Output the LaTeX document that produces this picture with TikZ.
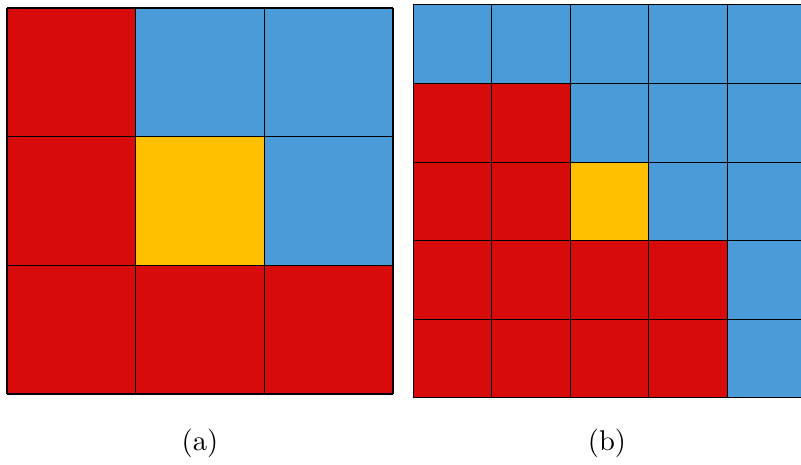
\documentclass[tikz,border=0pt]{standalone}
\definecolor{cellred}{HTML}{D80B0B}
\definecolor{cellblue}{HTML}{4A9BD8}
\definecolor{cellyellow}{HTML}{FFC000}
\tikzset{
  cell/.style={draw=black, line width=0.5pt},
  smallcell/.style={draw=black, line width=0.35pt},
}
\begin{document}
\begin{tikzpicture}[x=0.35pt, y=-0.35pt]
\useasboundingbox (0,0) rectangle (801,465);
\clip (0,0) rectangle (801,465);
% (a) 3x3 grid, rows top to bottom
\foreach \c [count=\i from 0] in {cellred,cellblue,cellblue,
                                   cellred,cellyellow,cellblue,
                                   cellred,cellred,cellred}{
  \pgfmathtruncatemacro{\col}{mod(\i,3)}
  \pgfmathtruncatemacro{\row}{div(\i,3)}
  \fill[\c] (7+128.7*\col, 8+128.7*\row) rectangle ++(128.7,128.7);
}
\foreach \k in {0,...,3}{
  \draw[cell] (7+128.7*\k,8) -- ++(0,386.1);
  \draw[cell] (7,8+128.7*\k) -- ++(386.1,0);
}
% (b) 5x5 grid
\foreach \c [count=\i from 0] in {cellblue,cellblue,cellblue,cellblue,cellblue,
                                   cellred,cellred,cellblue,cellblue,cellblue,
                                   cellred,cellred,cellyellow,cellblue,cellblue,
                                   cellred,cellred,cellred,cellred,cellblue,
                                   cellred,cellred,cellred,cellred,cellblue}{
  \pgfmathtruncatemacro{\col}{mod(\i,5)}
  \pgfmathtruncatemacro{\row}{div(\i,5)}
  \fill[\c] (413+78.6*\col, 5+78.6*\row) rectangle ++(78.6,78.6);
}
\foreach \k in {0,...,5}{
  \draw[smallcell] (413+78.6*\k,5) -- ++(0,393);
  \draw[smallcell] (413,5+78.6*\k) -- ++(393,0);
}
\node (capa) at (200,443) {(a)};
\node (capb) at (607,443) {(b)};
\end{tikzpicture}
\end{document}
